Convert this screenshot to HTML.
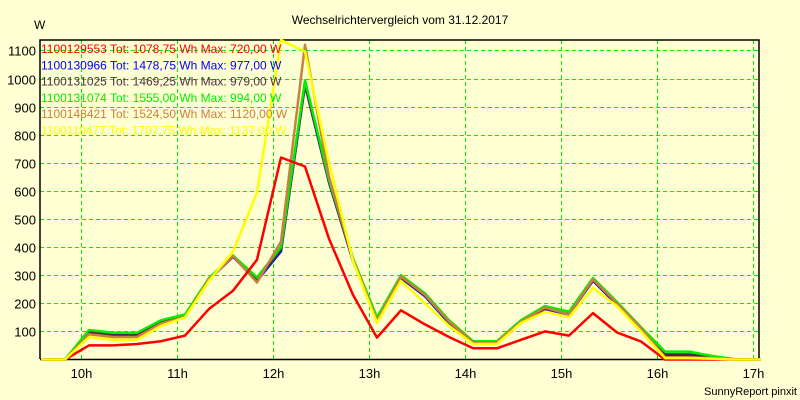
<!DOCTYPE html>
<html><head><meta charset="utf-8"><style>
body{margin:0;background:#ffffd4;}
svg{display:block;font-family:"Liberation Sans",sans-serif;}
</style></head><body>
<svg id="chart" width="800" height="400">
<rect width="800" height="400" fill="#ffffd4"/>
<text x="400" y="24" text-anchor="middle" font-size="12">Wechselrichtervergleich vom 31.12.2017</text>
<text x="34" y="29" font-size="12">W</text>
<text x="797" y="395" text-anchor="end" font-size="11">SunnyReport pinxit</text>
<g id="grid"></g><g id="axes"></g><g id="series"></g><g id="legend"></g>
</svg>
<script>
const hourTicks=[10,11,12,13,14,15,16,17];
const yTicks=[100,200,300,400,500,600,700,800,900,1000,1100];
const startMinute=9*60+35;const stepMinutes=15;
const red=[0,0,50,50,55,65,85,180,245,355,719,687,430,230,78,175,125,80,40,40,70,100,85,165,96,64,0,0,0,0,0];
const blue=[0,0,95,85,85,130,155,285,365,280,385,977,630,350,140,290,225,130,60,60,130,180,160,280,195,110,15,15,8,0,0];
const dark=[0,0,98,88,88,133,157,287,367,283,390,979,632,352,142,292,228,133,62,62,133,182,162,283,198,112,18,18,6,0,0];
const green=[0,0,105,95,95,140,160,290,370,292,400,994,640,360,150,300,235,140,65,65,140,190,170,290,205,115,28,28,12,0,0];
const brown=[0,0,90,80,80,128,152,285,368,274,420,1120,650,355,140,295,230,135,62,62,135,185,160,285,200,112,8,8,5,0,0];
const yellow=[0,0,80,70,70,120,150,280,384,594,1137,1096,700,350,130,280,200,120,55,55,130,170,150,255,190,100,5,5,3,0,0];
const seriesNames=["1100129553 Tot: 1078,75 Wh Max: 720,00 W","1100130966 Tot: 1478,75 Wh Max: 977,00 W","1100131025 Tot: 1469,25 Wh Max: 979,00 W","1100131074 Tot: 1555,00 Wh Max: 994,00 W","1100148421 Tot: 1524,50 Wh Max: 1120,00 W","1100119477 Tot: 1707,75 Wh Max: 1137,00 W"];
const seriesColors=["#ff0000","#0000ff","#4a3040","#00ee00","#c88040","#ffff00"];
const allSeries=[red,blue,dark,green,brown,yellow];
const drawOrder=[1,2,3,4,0,5];
const L=40,R=759,T=40,B=359;
const xMin=(h)=>81+(h-10)*96;
function xScale(min){return 81+(min-600)*96/60;}
function yScale(v){return 359.5-v*0.281;}
const NS="http://www.w3.org/2000/svg";
function mk(t,a,p){const e=document.createElementNS(NS,t);for(const k in a)e.setAttribute(k,a[k]);p.appendChild(e);return e;}
const grid=document.getElementById('grid'),axes=document.getElementById('axes'),ser=document.getElementById('series'),leg=document.getElementById('legend');
yTicks.forEach(v=>{const y=Math.round(yScale(v))+0.5;
 const g=mk('line',{x1:L,x2:R,y1:y,y2:y,stroke:'#00ee00','stroke-dasharray':'4,3'},grid);
 
 
 const t=mk('text',{x:36,y:y+5,'text-anchor':'end','font-size':13},axes);t.textContent=v;
 
 
});
hourTicks.forEach(h=>{const x=Math.round(xScale(h*60))+0.5;
 const g=mk('line',{x1:x,x2:x,y1:T,y2:B,stroke:'#00ee00','stroke-dasharray':'4,3'},grid);
 
 
 const t=mk('text',{x:x,y:378,'text-anchor':'middle','font-size':13},axes);t.textContent=h+'h';
 
 
});
const frame=mk('polyline',{points:`${L},${B} ${L},${T} ${R},${T} ${R},${B}`,fill:'none',stroke:'#000','stroke-width':1.5},axes);


const xAxis=mk('line',{x1:L,x2:R,y1:B+0.5,y2:B+0.5,stroke:'#000','stroke-width':1.5},axes);


drawOrder.forEach(i=>{const d=allSeries[i];
 const pts=d.map((v,k)=>xScale(startMinute+k*stepMinutes).toFixed(1)+','+yScale(v).toFixed(1)).join(' ');
 const p=mk('polyline',{points:pts,fill:'none',stroke:seriesColors[i],'stroke-width':2.5,'stroke-linejoin':'round'},ser);
 
 
});
seriesNames.forEach((n,i)=>{const t=mk('text',{x:41,y:53+i*16.3,'font-size':12,fill:seriesColors[i]},leg);t.textContent=n;
 
 
});
</script>
</body></html>
